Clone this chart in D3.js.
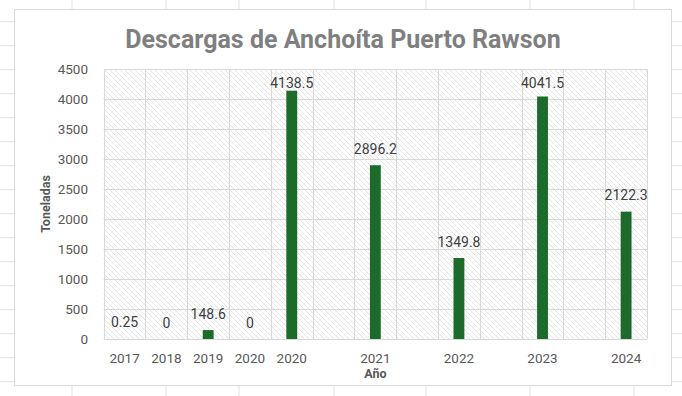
<!DOCTYPE html>
<html>
<head>
<meta charset="utf-8">
<script src="https://cdn.jsdelivr.net/npm/d3@7"></script>
<style>
  html, body { margin: 0; padding: 0; background: #fff; }
  svg { display: block; }
  text { font-family: Roboto, "Liberation Sans", sans-serif; }
</style>
</head>
<body>
<svg id="chart" width="682" height="396"></svg>
<script>
// Data (blank categories are empty spacer slots)
const years = ["2017", "2018", "2019", "2020", "2020", "", "2021", "", "2022", "", "2023", "", "2024"];
const tonnes = [0.25, 0, 148.6, 0, 4138.5, null, 2896.2, null, 1349.8, null, 4041.5, null, 2122.3];
const yTicks = [0, 500, 1000, 1500, 2000, 2500, 3000, 3500, 4000, 4500];

const title = "Descargas de Anchoíta Puerto Rawson";
const xTitle = "Año";
const yTitle = "Toneladas";

// spreadsheet backdrop
const sheetCols = [72, 166, 239, 334, 426, 530, 634];
const sheetRowStart = 21.7, sheetRowStep = 24;

const svg = d3.select("#chart");
const W = 682, H = 396;

// Sheet grid behind the chart
const sheet = svg.append("g").attr("class", "sheet");
sheet.selectAll("line.col")
  .data(sheetCols)
  .join("line")
  .attr("class", "col")
  .attr("x1", d => d).attr("x2", d => d)
  .attr("y1", 0).attr("y2", H)
  .attr("stroke", "#e1e1e1");
sheet.selectAll("line.row")
  .data(d3.range(sheetRowStart, H, sheetRowStep))
  .join("line")
  .attr("class", "row")
  .attr("x1", 0).attr("x2", W)
  .attr("y1", d => d).attr("y2", d => d)
  .attr("stroke", "#e1e1e1");

// Chart area
svg.append("rect")
  .attr("x", 14.5).attr("y", 9.5)
  .attr("width", 657).attr("height", 376)
  .attr("fill", "#fff")
  .attr("stroke", "#d9d9d9");

// hatch pattern for the plot area
const defs = svg.append("defs");
defs.append("pattern")
  .attr("id", "hatch")
  .attr("patternUnits", "userSpaceOnUse")
  .attr("width", 5).attr("height", 5)
  .append("path")
  .attr("d", "M0,0L5,5M-1,4L1,6M4,-1L6,1")
  .attr("stroke", "#dedede")
  .attr("stroke-width", 0.8);

const plot = { left: 103.7, right: 647, top: 69, bottom: 339 };

const x = d3.scaleBand()
  .domain(d3.range(years.length))
  .range([plot.left, plot.right])
  .paddingInner(0.74)
  .paddingOuter(0.37);

const yScale = d3.scaleLinear()
  .domain([0, 4500])
  .range([plot.bottom, plot.top]);

svg.append("rect")
  .attr("x", plot.left).attr("y", plot.top)
  .attr("width", plot.right - plot.left)
  .attr("height", plot.bottom - plot.top)
  .attr("fill", "url(#hatch)");

// gridlines: horizontal for each tick, vertical at each category boundary
const step = (plot.right - plot.left) / years.length;
const grid = svg.append("g").attr("class", "grid");
grid.selectAll("line.h")
  .data(yTicks)
  .join("line")
  .attr("class", "h")
  .attr("x1", plot.left).attr("x2", plot.right)
  .attr("y1", d => Math.round(yScale(d)) + 0.5)
  .attr("y2", d => Math.round(yScale(d)) + 0.5)
  .attr("stroke", "#d9d9d9");
grid.selectAll("line.v")
  .data(d3.range(years.length + 1))
  .join("line")
  .attr("class", "v")
  .attr("x1", i => Math.round(plot.left + i * step) + 0.5)
  .attr("x2", i => Math.round(plot.left + i * step) + 0.5)
  .attr("y1", plot.top).attr("y2", plot.bottom)
  .attr("stroke", "#d9d9d9");

// bars
const barData = tonnes.map((v, i) => ({ i, v })).filter(d => d.v !== null);
svg.append("g").attr("class", "bars")
  .selectAll("rect")
  .data(barData)
  .join("rect")
  .attr("x", d => x(d.i))
  .attr("width", x.bandwidth())
  .attr("y", d => yScale(d.v))
  .attr("height", d => yScale(0) - yScale(d.v))
  .attr("fill", "#1c6b2a");

// data labels (kept inside plot area at the top)
svg.append("g").attr("class", "labels")
  .selectAll("text")
  .data(barData)
  .join("text")
  .attr("x", d => x(d.i) + x.bandwidth() / 2)
  .attr("y", d => Math.max(yScale(d.v) - 11.5, plot.top + 18.5))
  .attr("text-anchor", "middle")
  .attr("font-size", 14)
  .attr("fill", "#404040")
  .text(d => String(d.v));

// y axis labels
svg.append("g").attr("class", "y-axis")
  .selectAll("text")
  .data(yTicks)
  .join("text")
  .attr("x", 88)
  .attr("y", d => yScale(d) + 5)
  .attr("text-anchor", "end")
  .attr("font-size", 13.5)
  .attr("fill", "#595959")
  .text(d => d);

// x axis labels
svg.append("g").attr("class", "x-axis")
  .selectAll("text")
  .data(years.map((label, i) => ({ label, i })).filter(d => d.label))
  .join("text")
  .attr("x", d => x(d.i) + x.bandwidth() / 2)
  .attr("y", 363)
  .attr("text-anchor", "middle")
  .attr("font-size", 13.5)
  .attr("fill", "#595959")
  .text(d => d.label);

// axis titles
svg.append("text")
  .attr("x", (plot.left + plot.right) / 2)
  .attr("y", 378)
  .attr("text-anchor", "middle")
  .attr("font-size", 12.5)
  .attr("font-weight", "bold")
  .attr("fill", "#595959")
  .text(xTitle);

svg.append("text")
  .attr("transform", `translate(50,${(plot.top + plot.bottom) / 2}) rotate(-90)`)
  .attr("text-anchor", "middle")
  .attr("font-size", 12.5)
  .attr("font-weight", "bold")
  .attr("fill", "#595959")
  .text(yTitle);

// title
svg.append("text")
  .attr("x", 343)
  .attr("y", 48)
  .attr("text-anchor", "middle")
  .attr("font-size", 25)
  .attr("font-weight", "bold")
  .attr("fill", "#7f7f7f")
  .text(title);
</script>
</body>
</html>
